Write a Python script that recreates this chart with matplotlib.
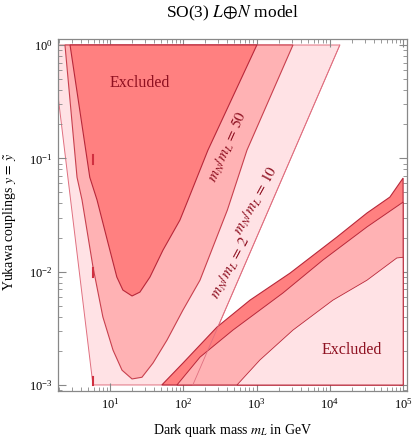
# SO(3) L+N model: Yukawa coupling vs dark quark mass exclusion regions
import matplotlib
matplotlib.use("Agg")
import matplotlib.pyplot as plt

plt.rcParams['font.family'] = 'serif'
plt.rcParams['font.serif'] = ['Liberation Serif', 'DejaVu Serif']
plt.rcParams['mathtext.fontset'] = 'stix'

# Valley-shaped excluded regions, one per m_N/m_L ratio (mass in GeV, coupling)
ratio2_m = [1.61, 5.86, 135, 13700]
ratio2_y = [1.0, 0.001, 0.001, 1.0]

ratio10_m = [2.43, 3.55, 4.15, 5.86, 8.0, 11.0, 14.6, 20, 27.3, 38.6, 60, 99, 169, 400, 740, 3140]
ratio10_y = [1.0, 0.068, 0.043, 0.011, 0.00398, 0.00203, 0.00135, 0.00113, 0.00117,
             0.00156, 0.00249, 0.00458, 0.0084, 0.035, 0.118, 1.0]

ratio50_m = [2.85, 5.3, 6.65, 9.4, 12.4, 15.0, 20, 25.6, 35.1, 52.9, 90, 116, 217, 1010]
ratio50_y = [1.0, 0.068, 0.043, 0.0179, 0.00896, 0.00688, 0.0061, 0.0066, 0.00896,
             0.0155, 0.0285, 0.0428, 0.118, 1.0]

# Lower-right excluded bands (boundaries from top to bottom)
upper_m = [51, 99, 288, 813, 2860, 12500, 32100, 66000, 1e5]
upper_y = [0.001, 0.00156, 0.00324, 0.0056, 0.0097, 0.0202, 0.0329, 0.0455, 0.067]

middle_m = [82, 169, 476, 2290, 8050, 32100, 1e5]
middle_y = [0.001, 0.00176, 0.00305, 0.00648, 0.01266, 0.0248, 0.0411]

lower_m = [541, 1110, 3140, 11000, 32100, 82000, 1e5]
lower_y = [0.001, 0.00166, 0.00305, 0.0056, 0.0084, 0.0132, 0.0134]

# small vertical artefacts at m_L ~ 5.9 GeV
mark_m = 5.9
mark_lo = [0.09, 0.009, 0.001]
mark_hi = [0.108, 0.0108, 0.00117]

light = '#FFE2E5'
medium = '#FFB2B4'
dark = '#FF8080'
edge_dark = '#B8283A'
edge_med = '#C8404E'
edge_light = '#E07080'
text_red = '#8E1020'

fig = plt.figure(figsize=(4.17, 4.40), dpi=100)
ax = fig.add_axes([0.139, 0.1114, 0.837, 0.80])
ax.set_xscale('log')
ax.set_yscale('log')

# valleys: light first, darker on top
ax.fill(ratio2_m, ratio2_y, facecolor=light, edgecolor=edge_light, lw=0.7, zorder=1)
ax.fill(ratio10_m, ratio10_y, facecolor=medium, edgecolor=edge_med, lw=0.8, zorder=2)
ax.fill(ratio50_m, ratio50_y, facecolor=dark, edgecolor=edge_dark, lw=0.8, zorder=3)

# bands: darkest first, lighter drawn over
ax.fill(upper_m + [1e5], upper_y + [0.001], facecolor=dark, edgecolor=edge_dark, lw=0.8, zorder=4)
ax.fill(middle_m + [1e5], middle_y + [0.001], facecolor=medium, edgecolor=edge_dark, lw=0.7, zorder=5)
ax.fill(lower_m + [1e5], lower_y + [0.001], facecolor=light, edgecolor=edge_dark, lw=0.6, zorder=6)

# right boundary of the light valley shows through the bands
ax.plot(ratio2_m[2:], ratio2_y[2:], color=edge_light, lw=0.6, zorder=7)

for lo, hi in zip(mark_lo, mark_hi):
    ax.plot([mark_m, mark_m], [lo, hi], color='#D03040', lw=1.5, zorder=8)

ax.text(25.6, 0.462, 'Excluded', color=text_red, fontsize=11.5, ha='center', va='center', zorder=9)
ax.text(20000, 0.00204, 'Excluded', color=text_red, fontsize=11.5, ha='center', va='center', zorder=9)
ax.text(407, 0.126, r'$m_N/m_L\,=\,50$', color=text_red, fontsize=11, rotation=66,
        ha='center', va='center', zorder=9)
ax.text(977, 0.0428, r'$m_N/m_L\,=\,10$', color=text_red, fontsize=11, rotation=61,
        ha='center', va='center', zorder=9)
ax.text(448, 0.0108, r'$m_N/m_L\,=\,2$', color=text_red, fontsize=11, rotation=62,
        ha='center', va='center', zorder=9)

ax.set_xlim(1.95, 1.13e5)
ax.set_ylim(8.85e-4, 1.13)

for s in ax.spines.values():
    s.set_color('#888888')
    s.set_linewidth(0.9)
ax.tick_params(which='both', direction='in', top=True, right=True, color='#888888',
               labelsize=9, pad=4)
ax.tick_params(which='major', length=5.5, width=0.8)
ax.tick_params(which='minor', length=3, width=0.6)
ax.set_xticks([1e1, 1e2, 1e3, 1e4, 1e5])
ax.set_yticks([1e-3, 1e-2, 1e-1, 1e0])

fig.text(232.5 / 417, 1 - 13 / 440, r'SO(3) $L\!\oplus\!N$ model', fontsize=12.5,
         ha='center', va='center')
fig.text(232.5 / 417, 1 - 430 / 440, r'Dark quark mass $m_L$ in GeV', fontsize=10,
         ha='center', va='center')
fig.text(10 / 417, 1 - 222 / 440, r'Yukawa couplings $y\,=\,\tilde{y}$', fontsize=10,
         ha='center', va='center', rotation=90)

fig.savefig('out.png', dpi=100)
